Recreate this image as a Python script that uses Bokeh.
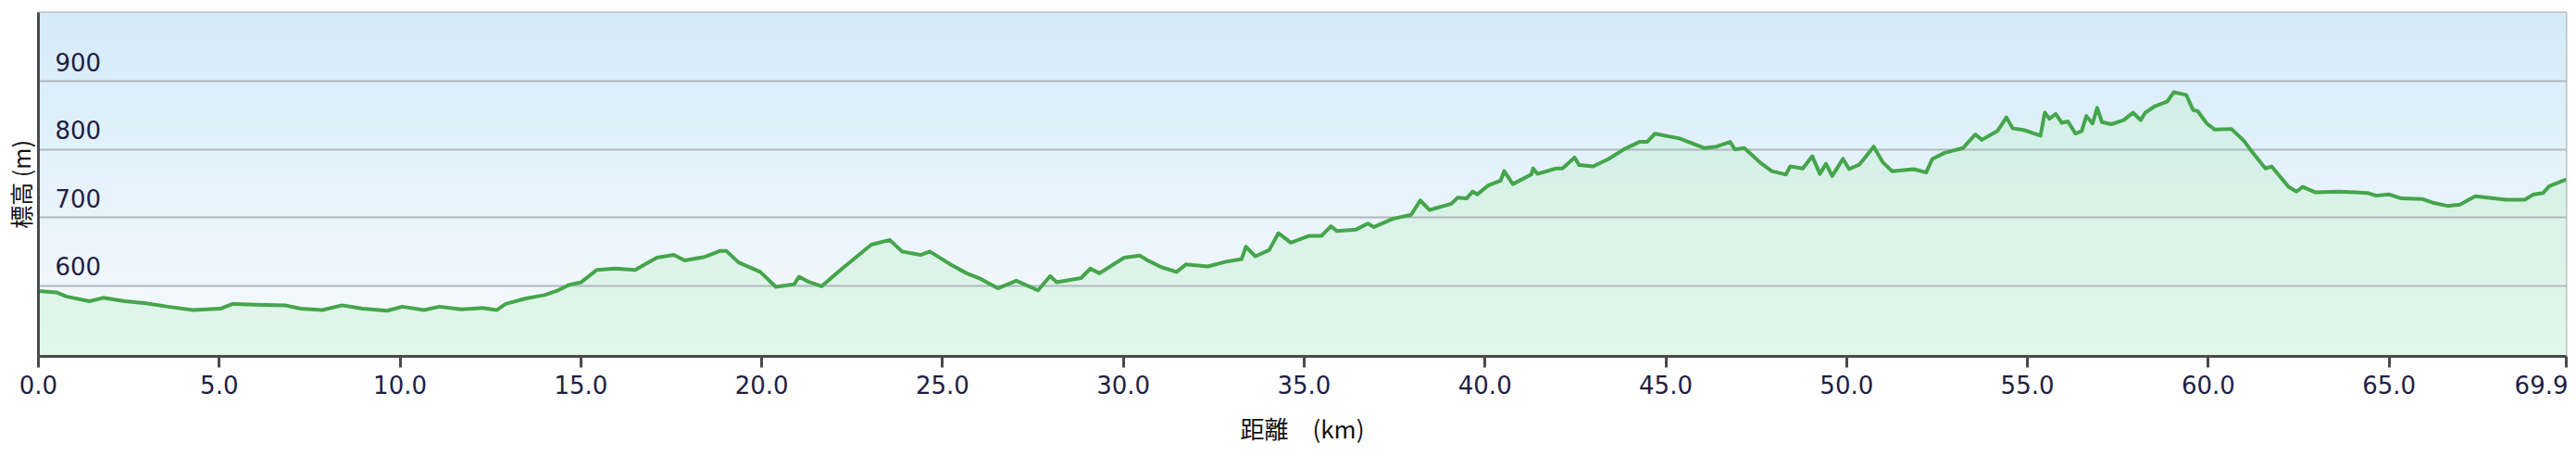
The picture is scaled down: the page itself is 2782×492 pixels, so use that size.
import numpy as np
from bokeh.plotting import figure
from bokeh.models import Range1d, FixedTicker, ColumnDataSource
from bokeh.core.properties import value
from bokeh.embed import file_html
from bokeh.resources import INLINE

# ---- data ----
distance_km = [0.0, 0.5, 0.77, 1.41, 1.79, 2.39, 2.98, 3.58, 4.27, 5.03, 5.37, 5.97, 6.82, 7.25, 7.85,
               8.40, 8.96, 9.64, 10.06, 10.66, 11.09, 11.69, 12.28, 12.67, 12.92, 13.48, 13.99, 14.33,
               14.67, 15.01, 15.44, 15.95, 16.50, 17.10, 17.57, 17.87, 18.42, 18.85, 19.02, 19.36, 19.96,
               20.39, 20.90, 21.03, 21.32, 21.66, 22.18, 23.03, 23.54, 23.88, 24.39, 24.65, 25.25, 25.67,
               26.01, 26.53, 27.04, 27.64, 27.98, 28.15, 28.83, 29.09, 29.34, 30.02, 30.45, 30.71, 31.05,
               31.47, 31.73, 32.33, 32.84, 33.27, 33.39, 33.65, 34.03, 34.29, 34.63, 35.14, 35.48, 35.74,
               35.91, 36.42, 36.76, 36.93, 37.45, 37.96, 38.21, 38.47, 39.07, 39.24, 39.49, 39.66, 39.79,
               40.09, 40.43, 40.53, 40.77, 41.28, 41.33, 41.45, 41.97, 42.14, 42.48, 42.60, 42.99, 43.42,
               43.84, 44.27, 44.48, 44.70, 45.38, 46.06, 46.40, 46.78, 46.91, 47.17, 47.42, 47.60, 47.93,
               48.32, 48.44, 48.79, 49.05, 49.26, 49.43, 49.60, 49.90, 50.07, 50.36, 50.75, 51.00, 51.26,
               51.86, 52.20, 52.37, 52.71, 53.22, 53.56, 53.74, 54.17, 54.42, 54.59, 54.93, 55.36, 55.48,
               55.61, 55.78, 55.95, 56.12, 56.33, 56.50, 56.63, 56.80, 56.93, 57.06, 57.32, 57.66, 57.92,
               58.13, 58.26, 58.51, 58.86, 59.05, 59.39, 59.58, 59.71, 59.96, 60.18, 60.64, 60.98, 61.16,
               61.58, 61.75, 62.22, 62.44, 62.61, 62.95, 63.63, 64.40, 64.65, 64.99, 65.34, 65.93, 66.19,
               66.61, 66.96, 67.38, 67.89, 68.24, 68.75, 69.00, 69.26, 69.43, 69.90]
elevation_m = [592, 590, 584, 577, 582, 577, 574, 569, 564, 566, 573, 572, 571, 566, 564,
               571, 566, 563, 569, 564, 569, 565, 567, 564, 573, 581, 586, 592,
               601, 605, 623, 625, 623, 641, 645, 637, 642, 651, 651, 634, 620,
               598, 602, 613, 605, 599, 623, 660, 667, 650, 645, 650, 630, 618,
               611, 596, 607, 593, 614, 605, 611, 625, 618, 641, 644, 636, 627,
               620, 631, 628, 635, 639, 657, 643, 652, 677, 663, 673, 673, 687,
               680, 682, 691, 686, 698, 704, 725, 711, 720, 729, 728, 738, 734,
               747, 754, 768, 749, 763, 772, 764, 772, 772, 788, 777, 775, 786,
               800, 811, 811, 823, 816, 802, 804, 811, 800, 802, 790, 781, 768,
               763, 775, 772, 790, 764, 779, 761, 786, 771, 778, 804, 781, 768,
               771, 766, 786, 795, 802, 822, 814, 827, 847, 831, 828, 820, 854,
               845, 852, 839, 841, 823, 827, 849, 838, 861, 840, 837, 843, 854,
               843, 854, 863, 870, 884, 880, 858, 856, 838, 829, 830, 813, 800,
               772, 775, 745, 738, 745, 737, 738, 736, 732, 734, 728, 727, 722,
               717, 719, 731, 728, 726, 726, 734, 736, 746, 756]
y_ticks = [600, 700, 800, 900]
y_tick_labels = ["600", "700", "800", "900"]
x_ticks = [0, 5, 10, 15, 20, 25, 30, 35, 40, 45, 50, 55, 60, 65, 69.9]
x_tick_labels = ["0.0", "5.0", "10.0", "15.0", "20.0", "25.0", "30.0", "35.0", "40.0", "45.0",
                 "50.0", "55.0", "60.0", "65.0", "69.9"]
x_title = "距離　(km)"
y_title = "標高 (m)"

X_MIN, X_MAX = 0.0, 69.9
Y_MIN, Y_MAX = 496.0, 1001.0

p = figure(frame_width=2730, frame_height=371,
           x_range=Range1d(X_MIN, X_MAX), y_range=Range1d(Y_MIN, Y_MAX),
           output_backend="svg", toolbar_location=None,
           min_border_left=34, min_border_right=2, min_border_top=13, min_border_bottom=92)
p.border_fill_color = "white"
p.outline_line_color = "#b4b4b4"
p.outline_line_width = 2

# background vertical gradient
N = 371
top = np.array([212, 235, 248], dtype=float)
bot = np.array([248, 251, 254], dtype=float)
t = np.linspace(1.0, 0.0, N)[:, None]  # row 0 = bottom
cols = (bot * t + top * (1 - t)).astype(np.uint32)
img = np.zeros((N, 1), dtype=np.uint32)
img[:, 0] = (255 << 24) | (cols[:, 2] << 16) | (cols[:, 1] << 8) | cols[:, 0]
bg = p.image_rgba(image=[img], x=X_MIN, y=Y_MIN, dw=X_MAX - X_MIN, dh=Y_MAX - Y_MIN)
bg.level = "image"

src = ColumnDataSource(dict(x=distance_km, y=elevation_m, y0=[Y_MIN] * len(distance_km)))
area = p.varea(x="x", y1="y0", y2="y", source=src, fill_color="#c2f0cc", fill_alpha=0.4)
area.level = "image"
p.line(x="x", y="y", source=src, line_color="#45a54b", line_width=4, line_join="round")

# y tick labels drawn inside the plot, above their gridlines
p.text(x=[X_MIN] * len(y_ticks), y=y_ticks, text=y_tick_labels, x_offset=18, y_offset=-21,
       text_baseline="middle", text_align="left", text_font=value("DejaVu Sans"),
       text_font_size="26px", text_color="#1e1e46")

p.xgrid.visible = False
p.ygrid.ticker = FixedTicker(ticks=y_ticks)
p.ygrid.grid_line_color = "#b0b8c0"
p.ygrid.grid_line_width = 2

xa = p.xaxis[0]
xa.ticker = FixedTicker(ticks=x_ticks)
xa.major_label_overrides = {k: v for k, v in zip(x_ticks, x_tick_labels)}
xa.axis_line_color = "#4a4a4a"
xa.axis_line_width = 3
xa.major_tick_line_color = "#4a4a4a"
xa.major_tick_line_width = 3
xa.major_tick_in = 0
xa.major_tick_out = 12
xa.minor_tick_line_color = None
xa.major_label_standoff = 8
xa.major_label_text_font = "DejaVu Sans"
xa.major_label_text_font_size = "26px"
xa.major_label_text_color = "#1e1e46"
xa.axis_label = x_title
xa.axis_label_text_font = "Noto Sans CJK JP"
xa.axis_label_text_font_size = "26px"
xa.axis_label_text_font_style = "normal"
xa.axis_label_text_color = "#111111"
xa.axis_label_standoff = 15

ya = p.yaxis[0]
ya.ticker = FixedTicker(ticks=[])
ya.axis_line_color = "#4a4a4a"
ya.axis_line_width = 3
ya.major_tick_in = 0
ya.major_tick_out = 0
ya.minor_tick_line_color = None
ya.major_label_standoff = 0
ya.axis_label = y_title
ya.axis_label_text_font = "Noto Sans CJK JP"
ya.axis_label_text_font_size = "25px"
ya.axis_label_text_font_style = "normal"
ya.axis_label_text_color = "#111111"
ya.axis_label_standoff = 2

open("out.html", "w").write(file_html(p, INLINE))
